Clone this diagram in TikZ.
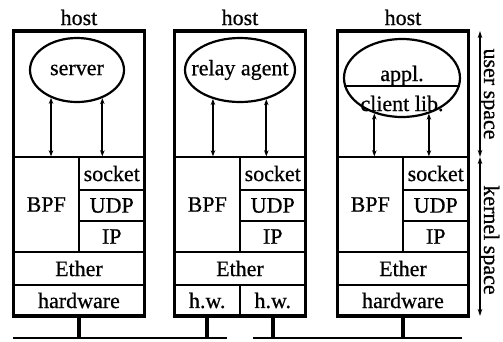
\documentclass[tikz,border=0pt]{standalone}
\usepackage{fontspec}
\setmainfont{Liberation Serif}[FakeBold=0.6]
\usetikzlibrary{shapes.geometric,arrows.meta}

\begin{document}
\begin{tikzpicture}[x=1pt,y=-1pt,
  font=\fontsize{22}{26}\selectfont,
  layer/.style={draw,line width=1.4pt,inner sep=0pt,minimum width=65.5pt,minimum height=31pt},
  wide/.style={layer,minimum width=131pt},
  hostbox/.style={draw,line width=3.2pt,inner sep=0pt,minimum width=131pt,minimum height=285pt},
  proc/.style={draw,ellipse,line width=2.2pt,inner sep=0pt,minimum height=64pt},
  updown/.style={<->,line width=1.7pt,>={Stealth[length=6pt,width=4.5pt]}},
  side/.style={<->,line width=1.2pt,>={Stealth[length=7pt,width=4.5pt]}},
  wire/.style={line width=2.5pt},
  stem/.style={line width=4pt}]
\useasboundingbox (0,0) rectangle (503,341);
% protocol stack of each host
\foreach \n/\x in {A/79,B/240,C/403}{
\path
(\x-32.75,204.5) node[layer,minimum height=95pt] (bpf\n) {BPF}
(\x+32.75,173.5) node[layer,minimum height=33pt] (sock\n) {socket}
(\x+32.75,205.5) node[layer] (udp\n) {UDP}
(\x+32.75,236.5) node[layer] (ip\n) {IP}
(\x,268.5) node[wide,minimum height=33pt] (eth\n) {Ether}
(\x,173.5) node[hostbox] (host\n) {}
(\x,25) node[anchor=base] (name\n) {host};
}
% interfaces
\path
(79,300.5) node[wide] (hwA) {hardware}
(207.25,300.5) node[layer] (hwB1) {h.w.}
(272.75,300.5) node[layer] (hwB2) {h.w.}
(403,300.5) node[wide] (hwC) {hardware};
% user processes
\path
(77,70) node[proc,minimum width=94pt,label=center:server] (srvA) {}
(240,70) node[proc,minimum width=110pt,label=center:relay agent] (relB) {}
(402,78) node[proc,minimum width=116pt,minimum height=78pt] (cliC) {}
(402,81) node[anchor=base] (applC) {appl.}
(402,111) node[anchor=base] (libC) {client lib.};
\draw[line width=1.6pt] (cliC.188) -- (cliC.352);
\draw[updown] (srvA.227) -- (srvA.227 |- bpfA.north);
\draw[updown] (srvA.312) -- (srvA.312 |- sockA.north);
\draw[updown] (relB.227) -- (relB.227 |- bpfB.north);
\draw[updown] (relB.312) -- (relB.312 |- sockB.north);
\draw[updown] (cliC.232) -- (cliC.232 |- bpfC.north);
\draw[updown] (cliC.307) -- (cliC.307 |- sockC.north);
% user / kernel split
\path
(480,31) coordinate (usrTop)
(480,157) coordinate (usrBot)
(480,316) coordinate (kerBot)
(484,94) node[rotate=-90,anchor=base] (usrLbl) {user space}
(484,240) node[rotate=-90,anchor=base] (kerLbl) {kernel space};
\draw[side] (usrTop) -- (usrBot);
\draw[side] (usrBot) -- (kerBot);
% the two networks
\path
(13,338) coordinate (netL1)
(227,338) coordinate (netL2)
(253,338) coordinate (netR1)
(462,338) coordinate (netR2);
\draw[wire] (netL1) -- (netL2);
\draw[wire] (netR1) -- (netR2);
\draw[stem] (hwA.south) -- (hwA.south |- netL1);
\draw[stem] (hwB1.south) -- (hwB1.south |- netL1);
\draw[stem] (hwB2.south) -- (hwB2.south |- netR1);
\draw[stem] (hwC.south) -- (hwC.south |- netR1);
\end{tikzpicture}
\end{document}
